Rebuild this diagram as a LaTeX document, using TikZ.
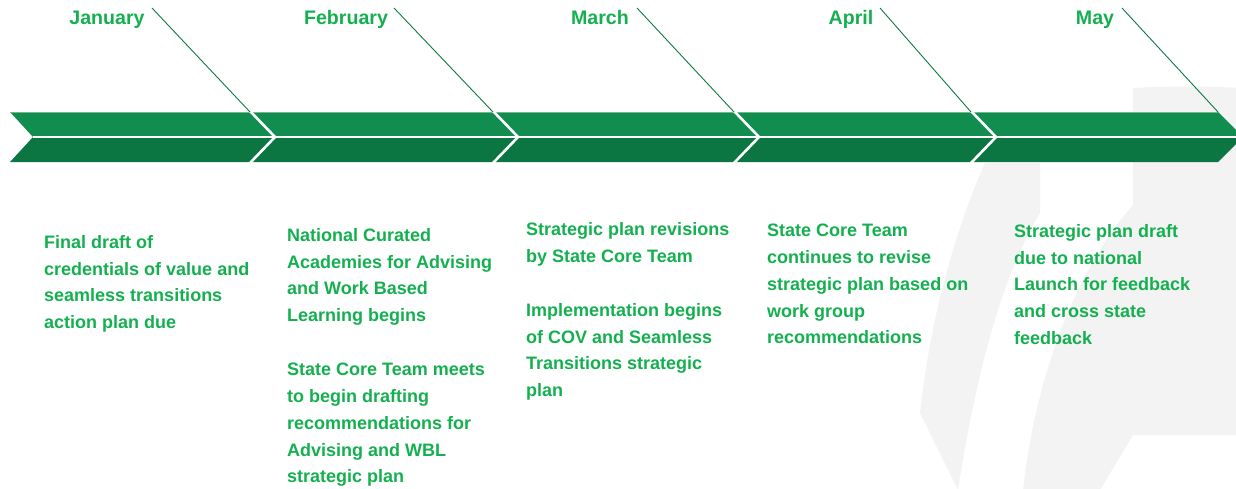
\documentclass[tikz,border=0pt]{standalone}
\usepackage{fontspec}
\setmainfont{Liberation Sans}
\definecolor{txtgreen}{RGB}{20,176,80}
\definecolor{bandtop}{RGB}{17,141,80}
\definecolor{bandbot}{RGB}{12,118,66}
\definecolor{bandedge}{RGB}{110,185,140}
\definecolor{thinline}{RGB}{14,122,70}
\definecolor{wmgray}{RGB}{243,243,243}
\tikzset{
  month/.style={font=\bfseries\fontsize{19.6}{23}\selectfont, text=txtgreen, inner sep=0pt, anchor=base},
  desc/.style={font=\bfseries\fontsize{18}{26.8}\selectfont, text=txtgreen, inner sep=0pt, anchor=north west, align=left},
  leader/.style={draw=thinline, line width=0.9pt},
  chev/.style={draw=white, line width=2.6pt},
  wm/.style={fill=wmgray}
}
\begin{document}
\begin{tikzpicture}[x=1pt,y=-1pt]
\useasboundingbox (0,0) rectangle (1236,488);
\begin{scope}
\clip (0,0) rectangle (1236,488);
% watermark
\fill[wm] (1133,88) .. controls (1170,86) and (1210,86) .. (1240,88) -- (1240,435) -- (1133,435) -- cycle;
\fill[wm] (920,413) -- (958,490) .. controls (975,380) and (1000,280) .. (1040,213) -- (1040,163) -- (985,163) .. controls (955,230) and (930,320) .. (920,413) -- cycle;
\fill[wm] (1023,490) .. controls (1035,380) and (1075,270) .. (1133,205) -- (1133,435) -- (1100,490) -- cycle;
% band
\fill[bandtop] (10,112) -- (1218,112) -- (1243,137) -- (33,137) -- cycle;
\fill[bandbot] (33,137) -- (1243,137) -- (1218,162) -- (10,162) -- cycle;
\draw[bandedge, line width=0.8pt] (10,112.4) -- (1218,112.4);
\draw[white, line width=1.6pt] (33,137) -- (1243,137);
\end{scope}
% chevrons
\foreach \a in {275,518,759,996} {
  \draw[chev, line join=miter] (\a-25,111) -- (\a,137) -- (\a-25,163);
}
% month labels
\node[month] (jan) at (107,24) {January};
\node[month] (feb) at (346,24) {February};
\node[month] (mar) at (600,24) {March};
\node[month] (apr) at (851,24) {April};
\node[month] (may) at (1095,24) {May};
% leader end points
\coordinate (ja) at (152,8);   \coordinate (jb) at (250,112);
\coordinate (fa) at (394,8);   \coordinate (fb) at (493,112);
\coordinate (ma) at (637,8);   \coordinate (mb) at (734,112);
\coordinate (aa) at (880,8);   \coordinate (ab) at (971,112);
\coordinate (ya) at (1122,8);  \coordinate (yb) at (1218,112);
\draw[leader] (ja) -- (jb);
\draw[leader] (fa) -- (fb);
\draw[leader] (ma) -- (mb);
\draw[leader] (aa) -- (ab);
\draw[leader] (ya) -- (yb);
% descriptions
\node[desc] (tjan) at (44,235) {Final draft of\\credentials of value and\\seamless transitions\\action plan due};
\node[desc] (tfeb1) at (287,228) {National Curated\\Academies for Advising\\and Work Based\\Learning begins};
\node[desc] (tfeb2) at (287,363) {State Core Team meets\\to begin drafting\\recommendations for\\Advising and WBL\\strategic plan};
\node[desc] (tmar1) at (526,222) {Strategic plan revisions\\by State Core Team};
\node[desc] (tmar2) at (526,303) {Implementation begins\\of COV and Seamless\\Transitions strategic\\plan};
\node[desc] (tapr) at (767,224) {State Core Team\\continues to revise\\strategic plan based on\\work group\\recommendations};
\node[desc] (tmay) at (1014,224) {Strategic plan draft\\due to national\\Launch for feedback\\and cross state\\feedback};
\end{tikzpicture}
\end{document}
